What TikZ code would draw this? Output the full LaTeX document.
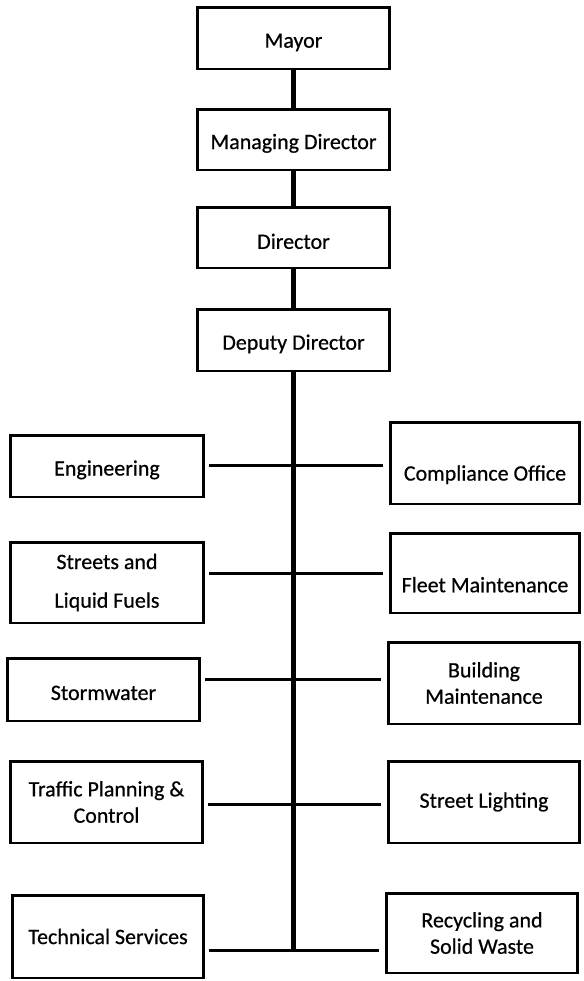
\documentclass[tikz,border=0pt]{standalone}
\usepackage{fontspec}
\setmainfont[FakeBold=0.6]{Carlito}
\usetikzlibrary{calc}

\begin{document}
\begin{tikzpicture}[x=0.02cm, y=-0.02cm,
		box/.style={draw, line width=1.7pt, align=center, inner sep=2pt, font=\fontsize{12.5}{15}\selectfont},
		low/.style={text height=#1},
		link/.style={line width=1.7pt, shorten <=2pt, shorten >=3pt}]
	\useasboundingbox (0,0) rectangle (583,981);
	\node [box, low=13pt, minimum width=3.86cm, minimum height=1.24cm] (mayor) at (293.5,38) {Mayor};
	\node [box, low=13pt, minimum width=3.86cm, minimum height=1.22cm] (md) at (293.5,139.5) {Managing Director};
	\node [box, low=13pt, minimum width=3.86cm, minimum height=1.22cm] (dir) at (293.5,237.5) {Director};
	\node [box, low=13pt, minimum width=3.86cm, minimum height=1.24cm] (dep) at (293.5,340) {Deputy Director};
	\node [box, low=13pt, minimum width=3.88cm, minimum height=1.24cm] (eng) at (107,466) {Engineering};
	\node [box, low=22pt, minimum width=3.8cm, minimum height=1.64cm] (comp) at (485,463) {Compliance Office};
	\node [box, minimum width=3.88cm, minimum height=1.62cm] (str) at (107,582.5) {Streets and\\[7pt]Liquid Fuels};
	\node [box, low=22pt, minimum width=3.8cm, minimum height=1.6cm] (fleet) at (485,573) {Fleet Maintenance};
	\node [box, low=12pt, minimum width=3.86cm, minimum height=1.26cm] (storm) at (103.5,689.5) {Stormwater};
	\node [box, minimum width=3.84cm, minimum height=1.64cm] (build) at (484,683) {Building\\Maintenance};
	\node [box, minimum width=3.86cm, minimum height=1.64cm] (traf) at (106.5,802) {Traffic Planning \&\\Control};
	\node [box, minimum width=3.84cm, minimum height=1.64cm] (light) at (484,802) {Street Lighting};
	\node [box, minimum width=3.84cm, minimum height=1.66cm] (tech) at (108,936.5) {Technical Services};
	\node [box, minimum width=3.84cm, minimum height=1.6cm] (recy) at (482,933) {Recycling and\\Solid Waste};
	\coordinate (j1) at (293,465);
	\coordinate (j2) at (293,573);
	\coordinate (j3) at (293,679);
	\coordinate (j4) at (293,804);
	\coordinate (j5) at (293,950);
	\draw [line width=3.4pt] (mayor) -- (md);
	\draw [line width=2.3pt] (md) -- (dir) (dir) -- (dep);
	\draw [line width=2.3pt] (dep.south) -- (dep.south |- j5);
	\draw [link] (eng.east |- j1) -- (comp.west |- j1);
	\draw [link] (str.east |- j2) -- (fleet.west |- j2);
	\draw [link] (storm.east |- j3) -- (build.west |- j3);
	\draw [link] (traf.east |- j4) -- (light.west |- j4);
	\draw [link] (tech.east |- j5) -- (recy.west |- j5);
\end{tikzpicture}
\end{document}
